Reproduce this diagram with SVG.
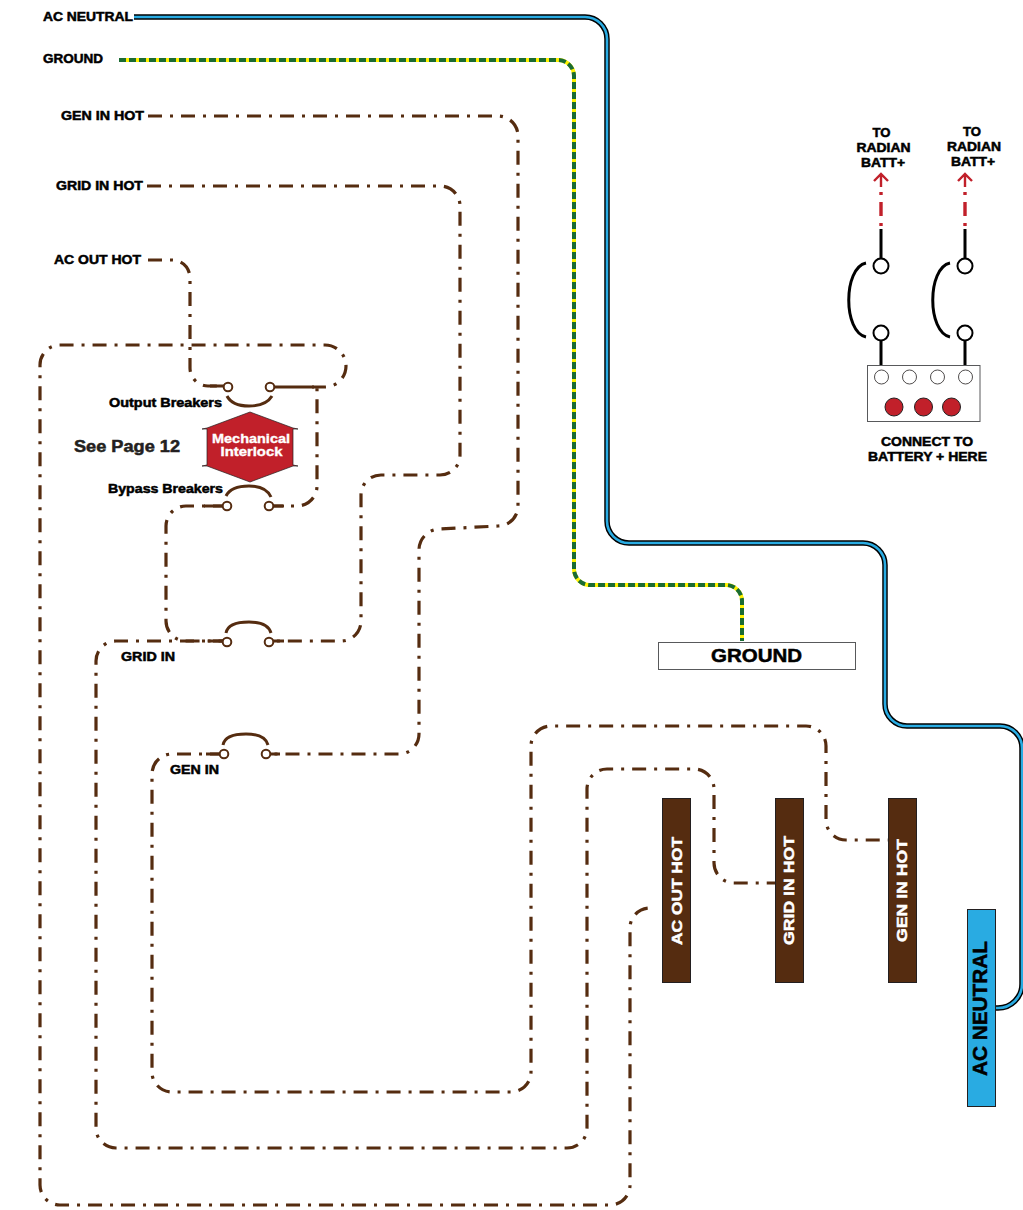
<svg xmlns="http://www.w3.org/2000/svg" width="1023" height="1210" viewBox="0 0 1023 1210">
<style>
text{font-family:"Liberation Sans",Arial,sans-serif;font-weight:700;fill:#000;stroke:#000;stroke-width:.5px}
.w{fill:#fff;stroke:#fff}
.g{fill:#231f20;stroke:#231f20}
.hot{fill:none;stroke:#552c10;stroke-width:3.2;stroke-dasharray:14 8 3 8}
.sol{fill:none;stroke:#552c10;stroke-width:3.2}
.arc{fill:none;stroke:#552c10;stroke-width:3}
.term{fill:#fff;stroke:#552c10;stroke-width:2}
.nb{fill:none;stroke:#000;stroke-width:5.5}
.nf{fill:none;stroke:#29abe2;stroke-width:2.6}
.gg{fill:none;stroke:#fff200;stroke-width:4}
.gd{fill:none;stroke:#1a6b33;stroke-width:4;stroke-dasharray:7 3}
.bar{fill:#552c10;stroke:#231f20;stroke-width:1}
.bk{fill:none;stroke:#000;stroke-width:3}
.bt{fill:#fff;stroke:#000;stroke-width:2}
.red{fill:none;stroke:#c1202a;stroke-width:3.4;stroke-dasharray:3 7 14 7}
</style>
<g id="connectors">
<path id="neutral-b" class="nb" d="M134 17H585A22 22 0 0 1 607 39V521A22 22 0 0 0 629 543H863A22 22 0 0 1 885 565V704A22 22 0 0 0 907 726H1000A22 22 0 0 1 1022 748V984A24 24 0 0 1 998 1008H996"/>
<path id="neutral-f" class="nf" d="M134 17H585A22 22 0 0 1 607 39V521A22 22 0 0 0 629 543H863A22 22 0 0 1 885 565V704A22 22 0 0 0 907 726H1000A22 22 0 0 1 1022 748V984A24 24 0 0 1 998 1008H996"/>
<path class="gg" d="M119 60H558A16 16 0 0 1 574 76V569A16 16 0 0 0 590 585H726A16 16 0 0 1 742 601V641"/>
<path class="gd" d="M119 60H558A16 16 0 0 1 574 76V569A16 16 0 0 0 590 585H726A16 16 0 0 1 742 601V641"/>
<path class="hot" d="M148 116H498A20 20 0 0 1 518 136V506A20 20 0 0 1 498 526L440 529A21 21 0 0 0 419 550V734A20 20 0 0 1 399 754H266"/>
<path class="hot" d="M224 754H172A20 20 0 0 0 152 774V1072A20 20 0 0 0 172 1092H511A20 20 0 0 0 531 1072V746A20 20 0 0 1 551 726H806A20 20 0 0 1 826 746V820A20 20 0 0 0 846 840H888"/>
<path class="hot" d="M147 186H440A20 20 0 0 1 460 206V455A20 20 0 0 1 440 475H381A20 20 0 0 0 361 495V621A20 20 0 0 1 341 641H269"/>
<path class="hot" d="M227 641H116A20 20 0 0 0 96 661V1128A20 20 0 0 0 116 1148H567A20 20 0 0 0 587 1128V789A20 20 0 0 1 607 769H694A20 20 0 0 1 714 789V863A20 20 0 0 0 734 883H775"/>
<path class="hot" d="M148 260H172A18 18 0 0 1 190 278V368A18 18 0 0 0 208 386H228"/>
<path class="hot" d="M312 387H325A21 21 0 0 0 325 345H60A20 20 0 0 0 40 365V1185A20 20 0 0 0 60 1205H610A20 20 0 0 0 630 1185V928A20 20 0 0 1 650 908H652"/>
<path class="sol" d="M270 387H314"/>
<path class="hot" d="M227 506H186A20 20 0 0 0 166 526V621A20 20 0 0 0 186 641H227"/>
<path class="hot" d="M269 506H297A20 20 0 0 0 317 486V387"/>
<path class="sol" d="M269 506H284M227 506H204M227 641H208M269 641H284M224 754H206M266 754H280M228 386H210"/>
</g>
<g id="breaker-output">
<path class="arc" d="M227 396Q232 406 249 406Q266 406 272 396"/>
<circle class="term" cx="228" cy="387" r="4.3"/><circle class="term" cx="270" cy="387" r="4.3"/>
<text x="109" y="407" font-size="12.500" textLength="113" lengthAdjust="spacingAndGlyphs">Output Breakers</text>
</g>
<g id="breaker-bypass">
<path class="arc" d="M226 496Q231 486 249 486Q266 486 271 497"/>
<circle class="term" cx="227" cy="506" r="4.3"/><circle class="term" cx="269" cy="506" r="4.3"/>
<text x="108" y="493" font-size="12.500" textLength="115" lengthAdjust="spacingAndGlyphs">Bypass Breakers</text>
</g>
<g id="breaker-grid">
<path class="arc" d="M226 633Q228 622 249 622Q268 622 271 633"/>
<circle class="term" cx="227" cy="642" r="4.3"/><circle class="term" cx="269" cy="642" r="4.3"/>
<text x="121" y="661" font-size="12.500" textLength="54" lengthAdjust="spacingAndGlyphs">GRID IN</text>
</g>
<g id="breaker-gen">
<path class="arc" d="M223 745Q225 734 246 734Q265 734 268 745"/>
<circle class="term" cx="224" cy="754" r="4.3"/><circle class="term" cx="266" cy="754" r="4.3"/>
<text x="170" y="774" font-size="12.500" textLength="49" lengthAdjust="spacingAndGlyphs">GEN IN</text>
</g>
<g id="interlock">
<path d="M250 412L293 428L298 429H293V465L298 466H293L250 482L207 466H202L207 465V429H202L207 428Z" fill="#c1202a" stroke="#231f20" stroke-width=".7"/>
<text class="w" x="251" y="443" font-size="12.500" text-anchor="middle" textLength="78" lengthAdjust="spacingAndGlyphs" style="stroke-width:.35px">Mechanical</text>
<text class="w" x="251.500" y="456" font-size="12.500" text-anchor="middle" textLength="62" lengthAdjust="spacingAndGlyphs" style="stroke-width:.35px">Interlock</text>
<text class="g" x="74" y="452" font-size="16" textLength="106" lengthAdjust="spacingAndGlyphs">See Page 12</text>
</g>
<g id="labels-in">
<text x="43" y="21" font-size="12.500" textLength="90" lengthAdjust="spacingAndGlyphs">AC NEUTRAL</text>
<text x="43" y="63" font-size="12.500" textLength="60" lengthAdjust="spacingAndGlyphs">GROUND</text>
<text x="61" y="120" font-size="12.500" textLength="83" lengthAdjust="spacingAndGlyphs">GEN IN HOT</text>
<text x="56" y="190" font-size="12.500" textLength="87" lengthAdjust="spacingAndGlyphs">GRID IN HOT</text>
<text x="54" y="264" font-size="12.500" textLength="87" lengthAdjust="spacingAndGlyphs">AC OUT HOT</text>
</g>
<g id="bar-ac-out"><rect class="bar" x="662.500" y="798.500" width="28" height="184"/>
<text class="w" transform="translate(682 945) rotate(-90)" font-size="15.500" textLength="108" lengthAdjust="spacingAndGlyphs">AC OUT HOT</text></g>
<g id="bar-grid"><rect class="bar" x="775.500" y="798.500" width="28" height="184"/>
<text class="w" transform="translate(794 945) rotate(-90)" font-size="15.500" textLength="109" lengthAdjust="spacingAndGlyphs">GRID IN HOT</text></g>
<g id="bar-gen"><rect class="bar" x="888.500" y="798.500" width="28" height="184"/>
<text class="w" transform="translate(907 942) rotate(-90)" font-size="15.500" textLength="103" lengthAdjust="spacingAndGlyphs">GEN IN HOT</text></g>
<g id="bar-neutral"><rect x="967.500" y="909.500" width="28" height="197" fill="#29abe2" stroke="#231f20" stroke-width="1"/>
<text transform="translate(987 1076) rotate(-90)" font-size="20.500" textLength="135" lengthAdjust="spacingAndGlyphs">AC NEUTRAL</text></g>
<g id="ground-bar"><rect x="658.500" y="642.500" width="197" height="27" fill="#fff" stroke="#58595b" stroke-width="1"/>
<text x="711" y="662" font-size="18.500" textLength="91" lengthAdjust="spacingAndGlyphs">GROUND</text></g>
<g id="battery-links">
<path class="bk" d="M881 229V259M881 340V365M965 229V259M965 340V365"/>
<path class="red" d="M881 226V192M965 226V192"/>
<path d="M874 181L881 174L888 181M881 174V187M958 181L965 174L972 181M965 174V187" fill="none" stroke="#c1202a" stroke-width="2.400"/>
<path class="bk" d="M866 263C843 268 843 332 866 337M950 263C927 268 927 332 950 337"/>
<circle class="bt" cx="881" cy="266" r="7.500"/><circle class="bt" cx="881" cy="333" r="7.500"/>
<circle class="bt" cx="965" cy="266" r="7.500"/><circle class="bt" cx="965" cy="333" r="7.500"/>
</g>
<g id="battery">
<rect x="867.500" y="365.500" width="112.500" height="56" fill="#fff" stroke="#58595b" stroke-width="1"/>
<g fill="#fff" stroke="#231f20" stroke-width=".8"><circle cx="881.500" cy="377" r="7"/><circle cx="909.500" cy="377" r="7"/><circle cx="937.500" cy="377" r="7"/><circle cx="965.500" cy="377" r="7"/></g>
<g fill="#c1202a" stroke="#231f20" stroke-width="1"><circle cx="894" cy="407" r="9"/><circle cx="923.500" cy="407" r="9"/><circle cx="951.500" cy="407" r="9"/></g>
<text x="927" y="446" font-size="12.500" text-anchor="middle" textLength="92" lengthAdjust="spacingAndGlyphs">CONNECT TO</text>
<text x="927.500" y="461" font-size="12.500" text-anchor="middle" textLength="119" lengthAdjust="spacingAndGlyphs">BATTERY + HERE</text>
</g>
<g id="radian-labels">
<text x="881.500" y="137" font-size="12.500" text-anchor="middle" textLength="18" lengthAdjust="spacingAndGlyphs">TO</text>
<text x="883.500" y="152" font-size="12.500" text-anchor="middle" textLength="54" lengthAdjust="spacingAndGlyphs">RADIAN</text>
<text x="883" y="167" font-size="12.500" text-anchor="middle" textLength="44" lengthAdjust="spacingAndGlyphs">BATT+</text>
<text x="972" y="136" font-size="12.500" text-anchor="middle" textLength="18" lengthAdjust="spacingAndGlyphs">TO</text>
<text x="974" y="151" font-size="12.500" text-anchor="middle" textLength="54" lengthAdjust="spacingAndGlyphs">RADIAN</text>
<text x="973" y="166" font-size="12.500" text-anchor="middle" textLength="44" lengthAdjust="spacingAndGlyphs">BATT+</text>
</g>
</svg>
